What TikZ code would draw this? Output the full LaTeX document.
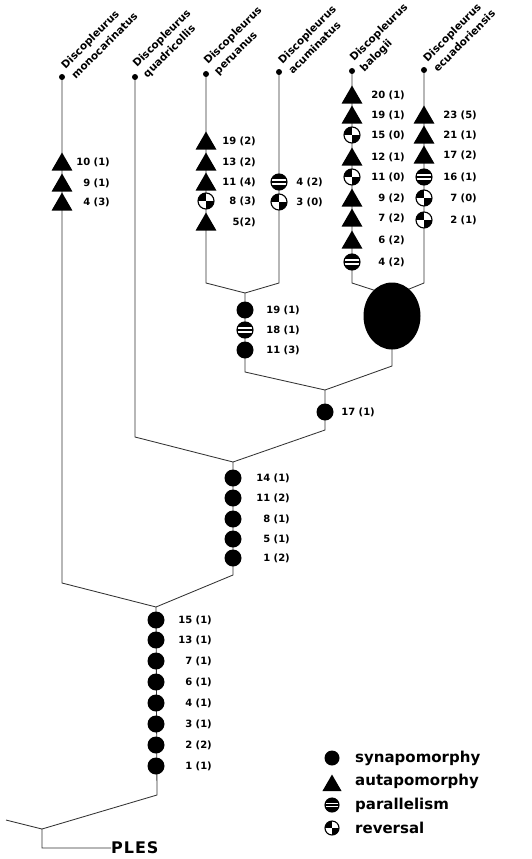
\documentclass[tikz,border=0pt]{standalone}
\usepackage{fontspec}
\setmainfont{DejaVu Sans}
\usetikzlibrary{shapes.geometric,backgrounds}
\begin{document}
\begin{tikzpicture}[x=1pt,y=-1pt,
  br/.style={line width=0.85pt, black!80},
  tipdot/.style={circle, fill=black, minimum size=6pt, inner sep=0},
  synsym/.style={circle, fill=black, minimum size=17pt, inner sep=0},
  autsym/.style={regular polygon, regular polygon sides=3, fill=black, minimum size=24pt, inner sep=0, yshift=-2.5pt},
  parsym/.style={circle, draw=black, line width=1.1pt, fill=white, minimum size=16pt, inner sep=0,
    path picture={
      \fill[black] (path picture bounding box.north west) rectangle ([yshift=-4.8pt]path picture bounding box.north east);
      \fill[black] ([yshift=4.8pt]path picture bounding box.south west) rectangle (path picture bounding box.south east);
      \fill[black] ([yshift=1.2pt]path picture bounding box.west) rectangle ([yshift=-1.2pt]path picture bounding box.east);
    }},
  revsym/.style={circle, draw=black, line width=1.1pt, fill=white, minimum size=16pt, inner sep=0,
    path picture={
      \fill[black] (path picture bounding box.center) rectangle (path picture bounding box.north west);
      \fill[black] (path picture bounding box.center) rectangle (path picture bounding box.south east);
    }},
  num/.style={anchor=east, font=\bfseries\fontsize{10}{12}\selectfont, inner sep=0},
  taxon/.style={rotate=45, anchor=south west, align=left, font=\bfseries\fontsize{10.5}{14.5}\selectfont, inner sep=0},
  legtext/.style={anchor=west, font=\bfseries\fontsize{15}{18}\selectfont, inner sep=0},
]
\useasboundingbox (0,0) rectangle (531,859);

% tips
\node[tipdot] (tA) at (62,77) {};
\node[tipdot] (tB) at (135,77) {};
\node[tipdot] (tC) at (206,74) {};
\node[tipdot] (tD) at (279,72) {};
\node[tipdot] (tE) at (352,71) {};
\node[tipdot] (tF) at (424,70) {};

\node[taxon] (nA) at (76,80) {Discopleurus\\monocarinatus};
\node[taxon] (nB) at (149,80) {Discopleurus\\quadricollis};
\node[taxon] (nC) at (220,77) {Discopleurus\\peruanus};
\node[taxon] (nD) at (293,75) {Discopleurus\\acuminatus};
\node[taxon] (nE) at (366,74) {Discopleurus\\balogii};
\node[taxon] (nF) at (438,73) {Discopleurus\\ecuadoriensis};

% bends and junctions
\coordinate (bA) at (62,583);
\coordinate (bB) at (135,437);
\coordinate (bC) at (206,283);
\coordinate (bD) at (279,283);
\coordinate (bE) at (352,283);
\coordinate (bF) at (424,283);
\coordinate (j1) at (245,293);
\coordinate (j1b) at (245,372);
\coordinate (j2) at (325,390);
\coordinate (j2b) at (325,430);
\coordinate (j3) at (392,296);
\coordinate (j3b) at (392,366);
\coordinate (j4) at (233,462);
\coordinate (j4b) at (233,575);
\coordinate (j5) at (156,607);
\coordinate (j5b) at (157,795);
\coordinate (root) at (42,829);
\coordinate (out) at (6,820);
\coordinate (rootb) at (42,848);

\node[anchor=west, inner sep=0, font=\bfseries\fontsize{16}{18}\selectfont\addfontfeatures{LetterSpace=6}] (ples) at (111,848) {PLES};

% big ellipse
\node[ellipse, fill=black, minimum width=57pt, minimum height=67pt, inner sep=0] (E) at (392,316) {};

% columns
\foreach \yy/\lab/\sym [count=\i] in {162/10 (1)/autsym,183/9 (1)/autsym,202/4 (3)/autsym}{
  \node[\sym] (a\i) at (62,\yy) {};
  \node[num] (al\i) at (110,\yy) {\lab};
}
\foreach \yy/\lab/\sym [count=\i] in {141/19 (2)/autsym,162/13 (2)/autsym,182/11 (4)/autsym,201/8 (3)/revsym,222/5(2)/autsym}{
  \node[\sym] (c\i) at (206,\yy) {};
  \node[num] (cl\i) at (256,\yy) {\lab};
}
\foreach \yy/\lab/\sym [count=\i] in {182/4 (2)/parsym,202/3 (0)/revsym}{
  \node[\sym] (d\i) at (279,\yy) {};
  \node[num] (dl\i) at (323,\yy) {\lab};
}
\foreach \yy/\lab/\sym [count=\i] in {95/20 (1)/autsym,115/19 (1)/autsym,135/15 (0)/revsym,157/12 (1)/autsym,177/11 (0)/revsym,198/9 (2)/autsym,218/7 (2)/autsym,240/6 (2)/autsym,262/4 (2)/parsym}{
  \node[\sym] (e\i) at (352,\yy) {};
  \node[num] (el\i) at (405,\yy) {\lab};
}
\foreach \yy/\lab/\sym [count=\i] in {115/23 (5)/autsym,135/21 (1)/autsym,155/17 (2)/autsym,177/16 (1)/parsym,198/7 (0)/revsym,220/2 (1)/revsym}{
  \node[\sym] (f\i) at (424,\yy) {};
  \node[num] (fl\i) at (477,\yy) {\lab};
}
\foreach \yy/\lab/\sym [count=\i] in {310/19 (1)/synsym,330/18 (1)/parsym,350/11 (3)/synsym}{
  \node[\sym] (g\i) at (245,\yy) {};
  \node[num] (gl\i) at (300,\yy) {\lab};
}
\node[synsym] (s17) at (325,412) {};
\node[num] (s17l) at (375,412) {17 (1)};
\foreach \yy/\lab [count=\i] in {478/14 (1),498/11 (2),519/8 (1),539/5 (1),558/1 (2)}{
  \node[synsym] (h\i) at (233,\yy) {};
  \node[num] (hl\i) at (290,\yy) {\lab};
}
\foreach \yy/\lab [count=\i] in {620/15 (1),640/13 (1),661/7 (1),682/6 (1),703/4 (1),724/3 (1),745/2 (2),766/1 (1)}{
  \node[synsym] (k\i) at (156,\yy) {};
  \node[num] (kl\i) at (212,\yy) {\lab};
}

% legend
\node[synsym, minimum size=15pt] (ls) at (332,758) {};
\node[autsym, minimum size=22pt] (la) at (332,783) {};
\node[parsym, minimum size=14pt] (lp) at (332,805) {};
\node[revsym, minimum size=14pt] (lr) at (332,828) {};
\node[legtext] (lst) at (355,758) {synapomorphy};
\node[legtext] (lat) at (355,781) {autapomorphy};
\node[legtext] (lpt) at (355,805) {parallelism};
\node[legtext] (lrt) at (355,828) {reversal};

% branches
\begin{scope}[on background layer]
\draw[br] (tA.center) -- (bA) -- (j5);
\draw[br] (tB.center) -- (bB) -- (j4);
\draw[br] (tC.center) -- (bC) -- (j1);
\draw[br] (tD.center) -- (bD) -- (j1);
\draw[br] (tE.center) -- (bE) -- (j3);
\draw[br] (tF.center) -- (bF) -- (j3);
\draw[br] (j1) -- (j1b) -- (j2);
\draw[br] (E.center) -- (j3b) -- (j2);
\draw[br] (j2) -- (j2b) -- (j4);
\draw[br] (j4) -- (j4b) -- (j5);
\draw[br] (j5) -- (j5b) -- (root);
\draw[br] (out) -- (root) -- (rootb) -- (ples.west);
\end{scope}
\end{tikzpicture}
\end{document}
